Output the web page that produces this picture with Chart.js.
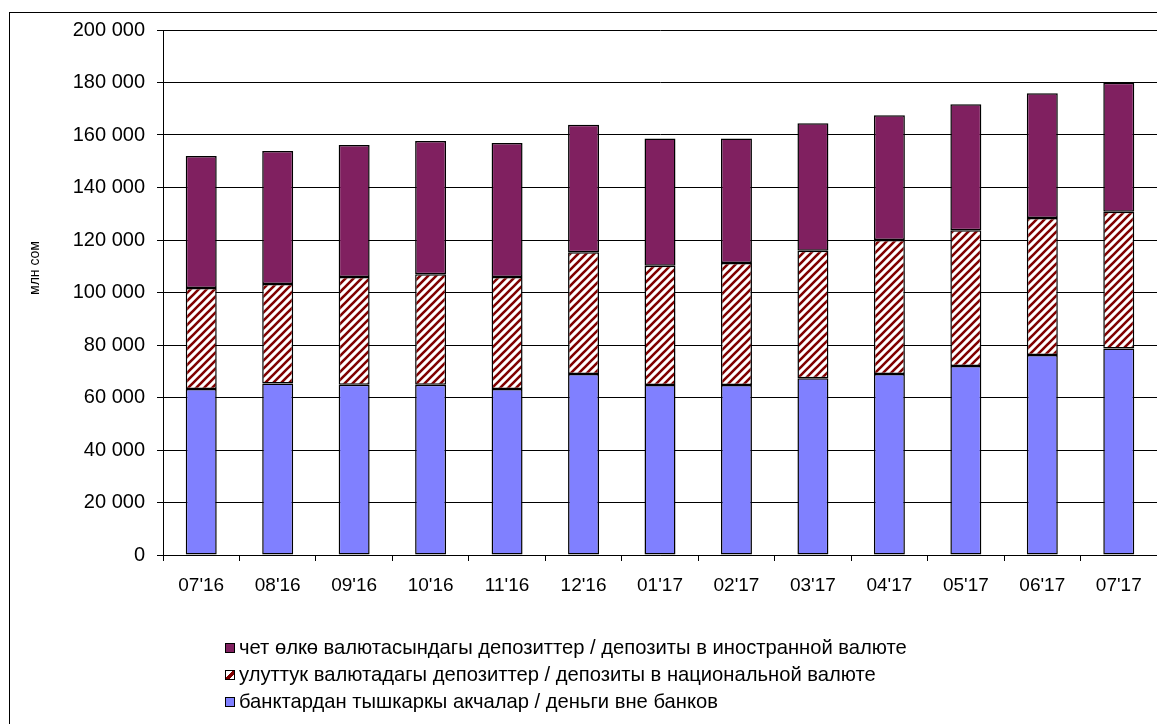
<!DOCTYPE html>
<html>
<head>
<meta charset="utf-8">
<script src="https://cdn.jsdelivr.net/npm/chart.js@4.4.1/dist/chart.umd.min.js"></script>
<style>
  html, body { margin: 0; padding: 0; background: #fff; overflow: hidden; }
  #wrap { position: relative; width: 1157px; height: 724px; }
  #frame { position: absolute; left: 9px; top: 12px; width: 1200px; height: 800px; border: 1px solid #000; box-sizing: border-box; pointer-events: none; }
  canvas { position: absolute; left: 0; top: 0; }
  #legend { position: absolute; left: 225px; top: 634px; font-family: "Liberation Sans", Arial, sans-serif; font-size: 20.2px; color: #000; }
  .item { height: 27.2px; display: flex; align-items: center; white-space: nowrap; }
  .box { width: 10px; height: 10px; border: 1px solid #000; margin-right: 4px; box-sizing: border-box; }
</style>
</head>
<body>
<div id="wrap">
  <canvas id="c" width="1157" height="724"></canvas>
  <div id="frame"></div>
  <div id="legend"></div>
</div>
<script>
const categories = ["07'16","08'16","09'16","10'16","11'16","12'16","01'17","02'17","03'17","04'17","05'17","06'17","07'17"];
const cashOutsideBanks = [63200, 65300, 64900, 64900, 63200, 68950, 64800, 64800, 67300, 68950, 72000, 76200, 78700];
const nationalDeposits = [38500, 37900, 41000, 42100, 42700, 46350, 45400, 46400, 48600, 51050, 51700, 52200, 52100];
const foreignDeposits  = [50300, 50700, 50300, 50700, 51100, 48600, 48500, 47500, 48600, 47500, 48000, 47500, 49100];
const seriesNames = [
  "банктардан тышкаркы акчалар / деньги вне банков",
  "улуттук валютадагы депозиттер / депозиты в национальной валюте",
  "чет өлкө валютасындагы депозиттер / депозиты в иностранной валюте"
];
const yMin = 0, yMax = 200000, yStep = 20000;
const yTitle = "млн сом";

function makeHatch() {
  const p = document.createElement('canvas');
  p.width = 8; p.height = 8;
  const g = p.getContext('2d');
  g.fillStyle = '#ffffff';
  g.fillRect(0, 0, 8, 8);
  g.strokeStyle = '#800000';
  g.lineWidth = 2.6;
  g.beginPath();
  g.moveTo(-2, 10); g.lineTo(10, -2);
  g.moveTo(-2, 2); g.lineTo(2, -2);
  g.moveTo(6, 10); g.lineTo(10, 6);
  g.stroke();
  return g.createPattern(p, 'repeat');
}
const hatch = makeHatch();
const colors = ['#8080ff', hatch, '#802060'];

const fmt = v => String(v).replace(/\B(?=(\d{3})+(?!\d))/g, ' ');
const FONT = "'Liberation Sans', Arial, sans-serif";

// y-axis title drawn at its reference position (rotated, real text)
const yTitlePlugin = {
  id: 'yTitle',
  afterDraw(chart) {
    const ctx = chart.ctx;
    ctx.save();
    ctx.translate(35, 268);
    ctx.rotate(-Math.PI / 2);
    ctx.font = "14px " + FONT;
    ctx.fillStyle = '#000';
    ctx.textAlign = 'center';
    ctx.textBaseline = 'middle';
    ctx.fillText(yTitle, 0, 0);
    ctx.restore();
  }
};

const chart = new Chart(document.getElementById('c'), {
  type: 'bar',
  data: {
    labels: categories,
    datasets: [
      { label: seriesNames[0], data: cashOutsideBanks, backgroundColor: colors[0] },
      { label: seriesNames[1], data: nationalDeposits, backgroundColor: colors[1] },
      { label: seriesNames[2], data: foreignDeposits, backgroundColor: colors[2] }
    ].map(d => Object.assign(d, { borderColor: '#000', borderWidth: 1.5, borderSkipped: false, categoryPercentage: 1, barPercentage: 0.405 }))
  },
  options: {
    responsive: false,
    animation: false,
    devicePixelRatio: 1,
    layout: { padding: { left: 0, top: 30, right: 0, bottom: 0 } },
    plugins: { legend: { display: false }, tooltip: { enabled: false } },
    scales: {
      x: {
        stacked: true,
        grid: { display: true, drawOnChartArea: false, color: '#000', tickLength: 6, offset: true },
        border: { display: true, color: '#000' },
        ticks: { color: '#000', font: { family: FONT, size: 19 }, padding: 13, maxRotation: 0 },
        afterFit: s => { s.height = 169; }
      },
      y: {
        stacked: true,
        min: yMin, max: yMax,
        ticks: { stepSize: yStep, color: '#000', font: { family: FONT, size: 20 }, padding: 12, callback: v => fmt(v) },
        grid: { color: '#000', lineWidth: 1, tickLength: 6 },
        border: { display: true, color: '#000' },
        afterFit: s => { s.width = 163; }
      }
    }
  },
  plugins: [yTitlePlugin]
});

// HTML legend, reverse order as in the reference
const lg = document.getElementById('legend');
chart.data.datasets.slice().reverse().forEach(ds => {
  const row = document.createElement('div');
  row.className = 'item';
  const b = document.createElement('span');
  b.className = 'box';
  if (ds.backgroundColor instanceof CanvasPattern) {
    b.style.background = 'linear-gradient(315deg, #fff 0 30%, #800000 30% 60%, #fff 60%)';
  } else {
    b.style.background = ds.backgroundColor;
  }
  const t = document.createElement('span');
  t.textContent = ds.label;
  row.appendChild(b); row.appendChild(t);
  lg.appendChild(row);
});
</script>
</body>
</html>
